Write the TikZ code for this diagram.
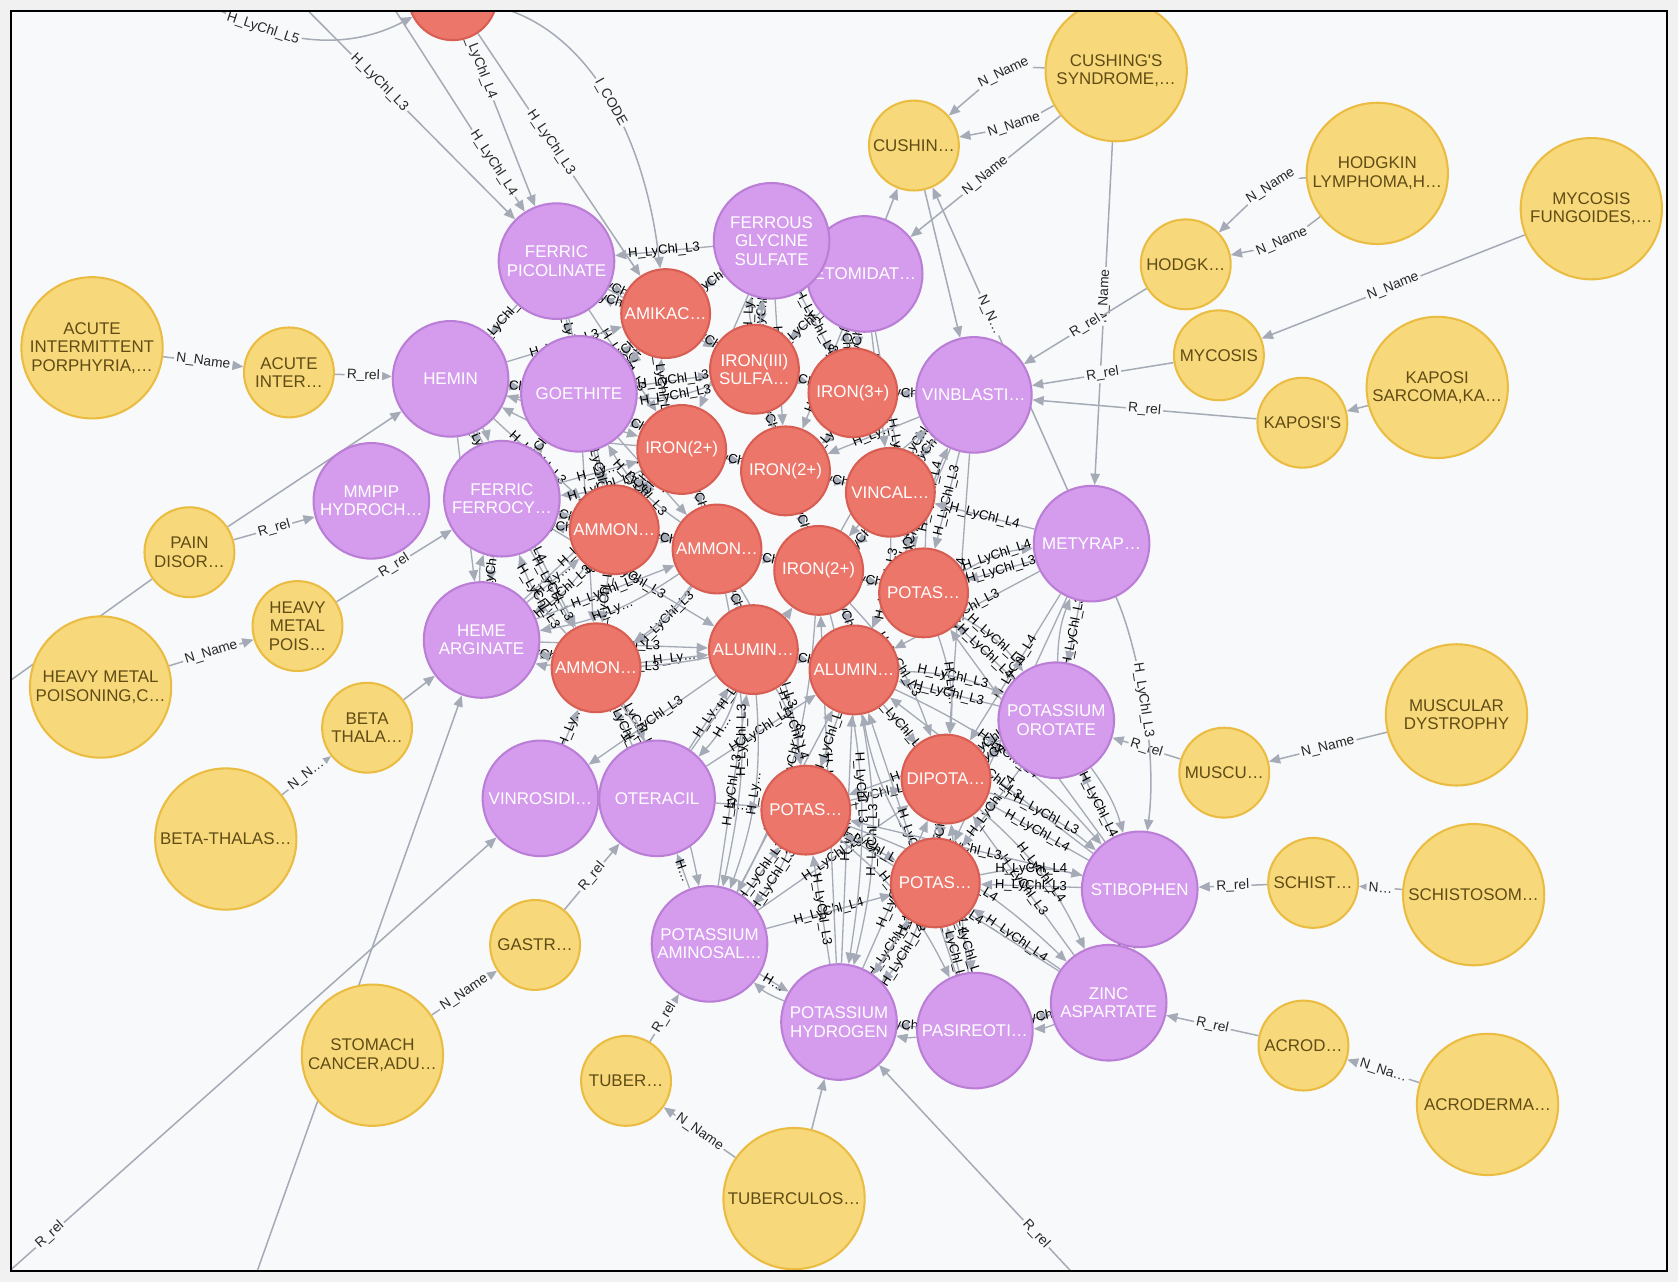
\documentclass[tikz,border=0pt]{standalone}
\usepackage{fontspec}
\setmainfont{Liberation Sans}
\definecolor{canvas}{RGB}{248,249,250}
\definecolor{outside}{RGB}{241,241,241}
\definecolor{edgegray}{RGB}{165,171,182}
\definecolor{dis-fill}{RGB}{247,217,124}
\definecolor{dis-line}{RGB}{234,188,66}
\definecolor{dis-text}{RGB}{96,76,20}
\definecolor{drug-fill}{RGB}{213,156,238}
\definecolor{drug-line}{RGB}{186,126,214}
\definecolor{ingr-fill}{RGB}{236,118,106}
\definecolor{ingr-line}{RGB}{216,94,84}
\usetikzlibrary{
  arrows.meta      % triangle tips
}
\newcommand{\nodecaption}{\fontsize{9}{9.8}\selectfont}
\newcommand{\relcaption}{\fontsize{7.3}{8}\selectfont}
\newcommand{\labthree}{H\_LyChl\_L3}
\newcommand{\labfour}{H\_LyChl\_L4}
\newcommand{\labshort}{H\_Ly…}
\newcommand{\labh}{H…}
\tikzset{
  circ/.style = {circle, inner sep=0pt, line width=1.1pt, align=center, font=\nodecaption},
  disbig/.style = {circ, draw=dis-line, fill=dis-fill, text=dis-text, minimum size=2.64cm},
  dissmall/.style = {circ, draw=dis-line, fill=dis-fill, text=dis-text, minimum size=1.68cm},
  drug/.style = {circ, draw=drug-line, fill=drug-fill, text=white, minimum size=2.16cm},
  ingr/.style = {circ, draw=ingr-line, fill=ingr-fill, text=white, minimum size=1.66cm},
  rel/.style = {draw=edgegray, line width=0.8pt, ->},
  hrel/.style = {draw=edgegray, line width=0.7pt, ->},
  elab/.style = {font=\relcaption, fill=canvas, inner sep=1.2pt, sloped, text=black!85},
  hlab/.style = {font=\fontsize{7}{7.5}\selectfont, inner sep=0.5pt, sloped, text=black},
  >={Triangle[length=6pt,width=5pt]}
}
\pgfdeclarelayer{background}
\pgfsetlayers{background,main}

\begin{document}
\begin{tikzpicture}[x=0.02cm, y=-0.02cm]
\useasboundingbox (0,0) rectangle (1568,1198);

\begin{scope}
\clip (10,10) rectangle (1558,1188);
% diseases, long names
\node[disbig] (acuteL) at (86,325) {ACUTE\\INTERMITTENT\\PORPHYRIA,…};
\node[disbig] (cushL) at (1043,66) {CUSHING\textquotesingle S\\SYNDROME,…};
\node[disbig] (hodL) at (1287,162) {HODGKIN\\LYMPHOMA,H…};
\node[disbig] (mycL) at (1487,195) {MYCOSIS\\FUNGOIDES,…};
\node[disbig] (kapL) at (1343,362) {KAPOSI\\SARCOMA,KA…};
\node[disbig] (hmpL) at (94,642) {HEAVY METAL\\POISONING,C…};
\node[disbig] (betaL) at (211,784) {BETA-THALAS…};
\node[disbig] (stomL) at (348,986) {STOMACH\\CANCER,ADU…};
\node[disbig] (tubL) at (742,1120) {TUBERCULOS…};
\node[disbig] (muscL) at (1361,668) {MUSCULAR\\DYSTROPHY};
\node[disbig] (schL) at (1377,836) {SCHISTOSOM…};
\node[disbig] (acroL) at (1390,1032) {ACRODERMA…};
% diseases, short names
\node[dissmall] (acuteS) at (270,348) {ACUTE\\INTER…};
\node[dissmall] (cushS) at (854,136) {CUSHIN…};
\node[dissmall] (hodS) at (1108,247) {HODGK…};
\node[dissmall] (mycS) at (1139,332) {MYCOSIS};
\node[dissmall] (kapS) at (1217,395) {KAPOSI\textquotesingle S};
\node[dissmall] (pain) at (177,516) {PAIN\\DISOR…};
\node[dissmall] (hmpS) at (278,585) {HEAVY\\METAL\\POIS…};
\node[dissmall] (betaS) at (343,680) {BETA\\THALA…};
\node[dissmall] (gastr) at (500,883) {GASTR…};
\node[dissmall] (tubS) at (585,1010) {TUBER…};
\node[dissmall] (muscS) at (1144,722) {MUSCU…};
\node[dissmall] (schS) at (1227,825) {SCHIST…};
\node[dissmall] (acroS) at (1218,977) {ACROD…};
% drugs
\node[drug] (fpic) at (520,244) {FERRIC\\PICOLINATE};
\node[drug] (etom) at (808,256) {ETOMIDAT…};
\node[drug] (fgly) at (721,225) {FERROUS\\GLYCINE\\SULFATE};
\node[drug] (hemin) at (421,354) {HEMIN};
\node[drug] (goeth) at (541,368) {GOETHITE};
\node[drug] (vinbl) at (910,369) {VINBLASTI…};
\node[drug] (mmpip) at (347,468) {MMPIP\\HYDROCH…};
\node[drug] (ffer) at (469,466) {FERRIC\\FERROCY…};
\node[drug] (metyr) at (1020,508) {METYRAP…};
\node[drug] (heme) at (450,598) {HEME\\ARGINATE};
\node[drug] (porot) at (987,673) {POTASSIUM\\OROTATE};
\node[drug] (vinro) at (505,746) {VINROSIDI…};
\node[drug] (oterac) at (614,746) {OTERACIL};
\node[drug] (stibo) at (1065,831) {STIBOPHEN};
\node[drug] (paminos) at (663,882) {POTASSIUM\\AMINOSAL…};
\node[drug] (phydro) at (784,955) {POTASSIUM\\HYDROGEN};
\node[drug] (pasir) at (911,963) {PASIREOTI…};
\node[drug] (zinc) at (1036,937) {ZINC\\ASPARTATE};
% ingredients
\node[ingr] (r0) at (423,-4) {};
\node[ingr] (amik) at (622,293) {AMIKAC…};
\node[ingr] (iron3s) at (705,345) {IRON(III)\\SULFA…};
\node[ingr] (iron3p) at (797,367) {IRON(3+)};
\node[ingr] (ironA) at (637,420) {IRON(2+)};
\node[ingr] (ironB) at (734,440) {IRON(2+)};
\node[ingr] (vincal) at (832,460) {VINCAL…};
\node[ingr] (ammA) at (574,495) {AMMON…};
\node[ingr] (ammB) at (670,513) {AMMON…};
\node[ingr] (ironC) at (765,533) {IRON(2+)};
\node[ingr] (potA) at (863,554) {POTAS…};
\node[ingr] (ammC) at (557,624) {AMMON…};
\node[ingr] (aluA) at (704,607) {ALUMIN…};
\node[ingr] (aluB) at (798,626) {ALUMIN…};
\node[ingr] (dipot) at (884,728) {DIPOTA…};
\node[ingr] (potB) at (753,757) {POTAS…};
\node[ingr] (potC) at (874,825) {POTAS…};
\end{scope}

% ends of connectors outside the frame
\coordinate (offA) at (-10,650);
\coordinate (offB) at (236,1200);
\coordinate (offC) at (-5,1200);
\coordinate (offD) at (1012,1200);
\coordinate (offE) at (270,-8);
\coordinate (offG) at (170,-12);
\coordinate (offH) at (358,-8);

\begin{pgfonlayer}{background}
\fill[outside] (0,0) rectangle (1568,1198);
\begin{scope}
\clip (10,10) rectangle (1558,1188);
\fill[canvas] (10,10) rectangle (1558,1188);

% dense cluster
\foreach \s/\t/\l in {
  fpic/amik/\labthree, fpic/iron3s/\labfour, fpic/ironA/\labthree, fpic/goeth/\labshort, fpic/hemin/\labthree, fpic/ammA/\labfour,
  fgly/amik/\labthree, fgly/iron3s/\labthree, fgly/iron3p/\labfour, fgly/ironB/\labthree, fgly/ironA/\labshort, fgly/fpic/\labthree,
  etom/iron3s/\labthree, etom/iron3p/\labthree, etom/vincal/\labfour, etom/potA/\labshort, etom/ironB/\labthree,
  hemin/goeth/\labthree, hemin/ironA/\labfour, hemin/ammA/\labthree, hemin/ffer/\labshort, hemin/heme/\labthree, hemin/amik/\labthree, hemin/ammC/\labfour,
  goeth/amik/\labthree, goeth/ironA/\labthree, goeth/ammA/\labfour, goeth/iron3s/\labthree, goeth/ammB/\labshort, goeth/ammC/\labthree,
  ffer/ammA/\labthree, ffer/ammB/\labfour, ffer/heme/\labthree, ffer/ammC/\labthree, ffer/ironA/\labshort, ffer/aluA/\labthree, ffer/goeth/\labthree,
  heme/ammC/\labthree, heme/ammA/\labshort, heme/aluA/\labthree, heme/ironA/\labfour, heme/ammB/\labthree,
  vinbl/iron3p/\labthree, vinbl/vincal/\labfour, vinbl/potA/\labthree, vinbl/ironC/\labthree, vinbl/ironB/\labshort, vinbl/aluB/\labthree, vinbl/dipot/\labfour,
  metyr/potA/\labthree, metyr/aluB/\labthree, metyr/dipot/\labfour, metyr/porot/\labthree, metyr/potC/\labfour, metyr/vincal/\labfour,
  vinro/ammC/\labshort, aluA/vinro/\labthree,
  oterac/ammC/\labthree, oterac/aluA/\labshort, oterac/potB/\labh, oterac/aluB/\labthree, oterac/ironC/\labthree,
  paminos/potB/\labthree, paminos/aluA/\labthree, paminos/aluB/\labfour, paminos/dipot/\labthree, paminos/potC/\labfour, paminos/phydro/\labh, paminos/oterac/\labh,
  phydro/potB/\labthree, phydro/potC/\labthree, phydro/dipot/\labfour, phydro/aluB/\labshort, phydro/ironC/\labthree, pasir/phydro/\labthree,
  pasir/potC/\labthree, pasir/dipot/\labfour, pasir/zinc/\labfour, pasir/aluB/\labthree,
  zinc/potC/\labfour, zinc/dipot/\labthree, zinc/potB/\labfour, stibo/zinc/\labfour,
  stibo/potC/\labthree, stibo/dipot/\labfour, stibo/potB/\labthree, stibo/porot/\labfour, stibo/potA/\labthree, stibo/aluB/\labthree,
  porot/dipot/\labthree, porot/potA/\labfour, porot/aluB/\labthree, porot/potC/\labfour, porot/potB/\labthree,
  amik/iron3s/\labthree, iron3s/iron3p/\labthree, ironA/ironB/\labfour, ammA/ammB/\labthree, ammB/ironC/\labthree,
  ironC/potA/\labfour, aluA/aluB/\labthree, potB/dipot/\labthree, dipot/potC/\labfour, potB/potC/\labthree,
  ammC/aluA/\labshort, ammA/ammC/\labthree, ironB/vincal/\labthree, vincal/potA/\labfour, ammB/aluA/\labthree,
  ironB/ironC/\labthree, aluB/dipot/\labthree, aluB/potB/\labfour, ironA/ammA/\labthree, ironA/ammB/\labthree, iron3s/ironB/\labthree}
  \draw[hrel] (\s) -- node[hlab] {\l} (\t);
% second, bent relations between the same nodes
\foreach \s/\t/\l in {
  amik/fpic/\labthree, amik/goeth/\labfour, iron3s/goeth/\labthree, ironA/hemin/\labshort, ironA/ffer/\labthree,
  ammA/ffer/\labfour, ammA/heme/\labthree, ammB/goeth/\labthree, ammB/heme/\labshort, ammC/ffer/\labthree,
  aluA/heme/\labthree, iron3p/etom/\labfour, vincal/vinbl/\labthree, potA/vinbl/\labfour, ironC/vinbl/\labthree,
  ironB/fgly/\labthree, iron3s/fgly/\labshort, potA/metyr/\labfour, dipot/porot/\labthree, potC/stibo/\labfour,
  potB/paminos/\labthree, dipot/phydro/\labthree, potC/phydro/\labfour, potC/pasir/\labthree, dipot/zinc/\labfour,
  aluB/porot/\labthree, aluB/phydro/\labthree, aluA/paminos/\labshort, ammC/oterac/\labthree, aluA/oterac/\labh,
  ironC/paminos/\labthree, ammB/paminos/\labthree, ammC/paminos/\labshort, ironC/phydro/\labthree, ammB/potB/\labthree,
  aluA/potB/\labfour, ironC/aluB/\labthree, vincal/aluB/\labthree, potA/dipot/\labshort, potA/porot/\labfour,
  ironC/dipot/\labthree, aluB/stibo/\labfour, dipot/stibo/\labthree, potB/zinc/\labfour, potB/pasir/\labthree,
  ironA/amik/\labthree, ammA/ironA/\labfour, ammB/ammC/\labthree, iron3p/ironB/\labshort, vincal/ironC/\labthree}
  \draw[hrel] (\s) to[bend left=12] node[hlab] {\l} (\t);
\foreach \s/\t in {hemin/goeth, goeth/amik, ffer/heme, heme/ammC, phydro/pasir, pasir/zinc, zinc/stibo,
  paminos/phydro, stibo/porot, metyr/porot, vinro/oterac, ffer/hemin, aluB/potC, ammC/ammB}
  \draw[hrel] (\t) to[bend left=10] (\s);

% names and relations around the cluster
\draw[rel] (acuteL) -- node[elab] {N\_Name} (acuteS);
\draw[rel] (acuteS) -- node[elab] {R\_rel} (hemin);
\draw[rel] (cushL) .. controls (940,62) .. (cushS) node[elab,midway] {N\_Name};
\draw[rel] (cushL) .. controls (950,118) .. (cushS) node[elab,midway] {N\_Name};
\draw[rel] (cushL) -- node[elab] {N\_Name} (etom);
\draw[rel] (cushL) -- node[elab,pos=0.45] {N\_Name} (metyr);
\draw[rel] (etom) -- (cushS);
\draw[rel] (metyr) -- node[elab,pos=0.58] {N\_N…} (cushS);
\draw[rel] (cushS) -- (vinbl);
\draw[rel] (hodL) .. controls (1190,168) .. (hodS) node[elab,midway] {N\_Name};
\draw[rel] (hodL) .. controls (1200,228) .. (hodS) node[elab,midway] {N\_Name};
\draw[rel] (hodS) -- node[elab] {R\_rel} (vinbl);
\draw[rel] (mycL) -- node[elab] {N\_Name} (mycS);
\draw[rel] (mycS) -- node[elab] {R\_rel} (vinbl);
\draw[rel] (kapL) -- (kapS);
\draw[rel] (kapS) -- node[elab] {R\_rel} (vinbl);
\draw[rel] (pain) -- (offA);
\draw[rel] (pain) -- node[elab] {R\_rel} (mmpip);
\draw[rel] (pain) -- (hemin);
\draw[rel] (hmpS) -- node[elab] {R\_rel} (ffer);
\draw[rel] (hmpL) -- node[elab] {N\_Name} (hmpS);
\draw[rel] (betaS) -- (heme);
\draw[rel] (betaL) -- node[elab] {N\_N…} (betaS);
\draw[rel] (offB) -- (heme);
\draw[rel] (offC) -- node[elab,pos=0.11] {R\_rel} (vinro);
\draw[rel] (gastr) -- node[elab] {R\_rel} (oterac);
\draw[rel] (stomL) -- node[elab] {N\_Name} (gastr);
\draw[rel] (tubS) -- node[elab] {R\_rel} (paminos);
\draw[rel] (tubL) -- node[elab] {N\_Name} (tubS);
\draw[rel] (tubL) -- (phydro);
\draw[rel] (offD) -- node[elab,pos=0.23] {R\_rel} (phydro);
\draw[rel] (muscL) -- node[elab] {N\_Name} (muscS);
\draw[rel] (muscS) -- node[elab] {R\_rel} (porot);
\draw[rel] (schL) -- node[elab] {N…} (schS);
\draw[rel] (schS) -- node[elab] {R\_rel} (stibo);
\draw[rel] (acroL) -- node[elab] {N\_Na…} (acroS);
\draw[rel] (acroS) -- node[elab] {R\_rel} (zinc);
\draw[rel] (metyr) .. controls (1062,600) and (1082,700) .. (stibo) node[elab,midway] {\labthree};
% coming in from above
\draw[rel] (offG) .. controls (260,50) and (330,45) .. (r0) node[elab,pos=0.3] {H\_LyChl\_L5};
\draw[rel] (offE) -- node[elab,pos=0.4] {\labthree} (fpic);
\draw[rel] (offH) -- node[elab,pos=0.78] {\labfour} (fpic);
\draw[rel] (r0) -- node[elab,pos=0.15] {\labfour} (fpic);
\draw[rel] (r0) -- node[elab,pos=0.45] {\labthree} (amik);
\draw[rel] (r0) .. controls (540,25) and (600,110) .. (amik) node[elab,pos=0.55] {I\_CODE};
\end{scope}
\end{pgfonlayer}

\draw[line width=1.2pt] (10,10) rectangle (1558,1188);
\end{tikzpicture}
\end{document}
